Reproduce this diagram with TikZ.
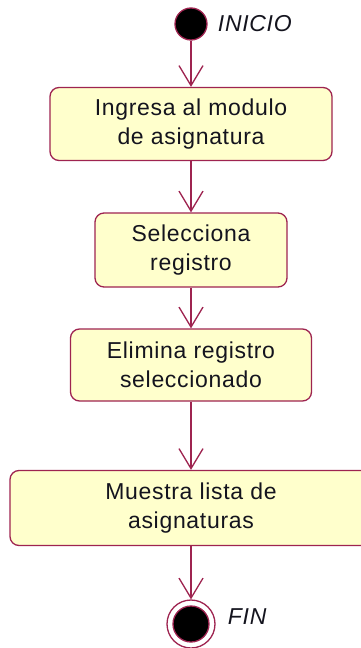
\documentclass[tikz,border=0pt]{standalone}
\usepackage{fontspec}
\setmainfont{Liberation Sans}
\newfontfamily\rosefont[LetterSpace=3]{Liberation Sans}
\usetikzlibrary{arrows.meta}
\definecolor{roseLine}{HTML}{9E2450}
\definecolor{roseFill}{HTML}{FFFFCC}
\definecolor{roseText}{HTML}{14141E}

\begin{document}
\begin{tikzpicture}[x=1pt, y=-1pt, line width=1.3pt,
    every node/.style={font=\rosefont\fontsize{23}{29}\selectfont, text=roseText},
    actividad/.style={draw=roseLine, fill=roseFill, rounded corners=9pt, align=center, inner sep=0pt},
    inicial/.style={circle, draw=roseLine, fill=black, inner sep=0pt, minimum size=32pt},
    flujo/.style={draw=roseLine, -{Straight Barb[length=20pt, width=24pt]}},
    etiqueta/.style={anchor=west, font=\rosefont\fontsize{23}{26}\selectfont\itshape}]
  \useasboundingbox (0,0) rectangle (360,648);
  % estados
  \node[inicial] (inicio) at (191,24) {};
  \node[etiqueta] (inicioLbl) at (214,24) {INICIO};
  \node[actividad, minimum width=282pt, minimum height=73pt] (ingresa) at (191,124) {Ingresa al modulo\\de asignatura};
  \node[actividad, minimum width=192pt, minimum height=74pt] (selecciona) at (191,250) {Selecciona\\registro};
  \node[actividad, minimum width=241pt, minimum height=72pt] (elimina) at (191,365) {Elimina registro\\seleccionado};
  \node[actividad, minimum width=362pt, minimum height=75pt] (muestra) at (191,508) {Muestra lista de\\asignaturas};
  \node[circle, draw=roseLine, fill=white, inner sep=0pt, minimum size=48pt] (fin) at (191,624) {};
  \node[inicial, minimum size=36pt] (finPunto) at (fin) {};
  \node[etiqueta] (finLbl) at (224,617) {FIN};
  % flujos
  \draw[flujo] (inicio) -- (ingresa);
  \draw[flujo] (ingresa) -- (selecciona);
  \draw[flujo] (selecciona) -- (elimina);
  \draw[flujo] (elimina) -- (muestra);
  \draw[flujo] (muestra) -- (fin);
\end{tikzpicture}
\end{document}
